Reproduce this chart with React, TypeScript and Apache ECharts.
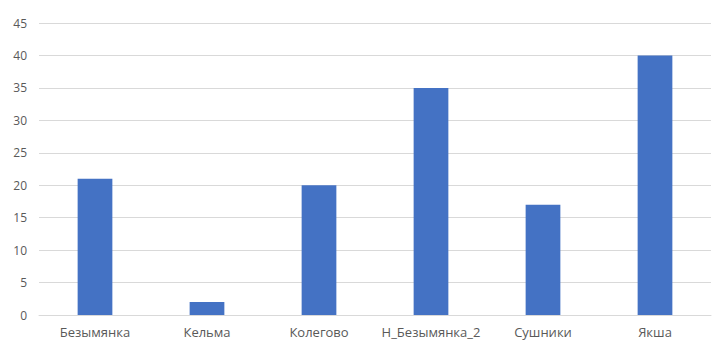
import React, { useEffect, useRef } from "react";
import * as echarts from "echarts";

const categories = ["Безымянка", "Кельма", "Колегово", "Н_Безымянка_2", "Сушники", "Якша"];
const values = [21, 2, 20, 35, 17, 40];

export default function App() {
  const ref = useRef<HTMLDivElement>(null);
  useEffect(() => {
    if (!ref.current) return;
    const chart = echarts.init(ref.current, null, { renderer: "svg" });
    chart.setOption({
      animation: false,
      backgroundColor: "#ffffff",
      grid: { left: 39, right: 9, top: 23, bottom: 43, containLabel: false },
      xAxis: {
        type: "category",
        data: categories,
        axisLine: { lineStyle: { color: "#d9d9d9" } },
        axisTick: { show: false },
        axisLabel: { interval: 0, color: "#595959", fontSize: 13, fontFamily: "Open Sans, sans-serif", margin: 10 },
      },
      yAxis: {
        type: "value",
        min: 0,
        max: 45,
        interval: 5,
        axisLine: { show: false },
        axisTick: { show: false },
        splitLine: { lineStyle: { color: "#d9d9d9" } },
        axisLabel: { color: "#595959", fontSize: 12, fontFamily: "Open Sans, sans-serif", margin: 12 },
      },
      series: [
        {
          type: "bar",
          data: values,
          barWidth: "31%",
          itemStyle: { color: "#4472C4" },
        },
      ],
    });
    return () => chart.dispose();
  }, []);
  return <div ref={ref} style={{ position: "fixed", left: 0, top: 0, width: 720, height: 358 }} />;
}
